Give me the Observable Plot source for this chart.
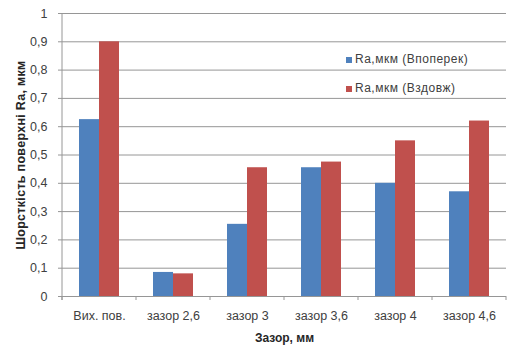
<!DOCTYPE html>
<html>
<head>
<meta charset="utf-8">
<script src="https://cdn.jsdelivr.net/npm/d3@7"></script>
<script src="https://cdn.jsdelivr.net/npm/@observablehq/plot@0.6"></script>
<style>
  body { margin: 0; background: #fff; }
  #chart { position: relative; width: 511px; height: 349px; font-family: "Liberation Sans", Arial, sans-serif; }
  #chart svg g[aria-label="y-axis label"] text { font-weight: bold; fill: #262626; font-size: 12.5px; letter-spacing: 0.3px; }
  #chart svg g[aria-label="fx-axis label"] text { font-weight: bold; fill: #262626; font-size: 12px; }
  .legend { position: absolute; left: 346px; top: 45px; font-size: 12px; letter-spacing: 0.5px; color: #404040; line-height: 29px; }
  .legend div { display: flex; align-items: center; white-space: nowrap; }
  .legend span.sw { display: inline-block; width: 6px; height: 6px; margin-right: 3px; }
</style>
</head>
<body>
<div id="chart"></div>
<script>
// Surface roughness Ra (µm) for each gap setting, measured across and along
const categories = ["Вих. пов.", "зазор 2,6", "зазор 3", "зазор 3,6", "зазор 4", "зазор 4,6"];
const series = ["Ra,мкм (Впоперек)", "Ra,мкм (Вздовж)"];
const across = [0.625, 0.085, 0.255, 0.455, 0.40, 0.37];
const along = [0.90, 0.08, 0.455, 0.475, 0.55, 0.62];
const colors = ["#4F81BD", "#C0504D"];
const yTicks = [0, 0.1, 0.2, 0.3, 0.4, 0.5, 0.6, 0.7, 0.8, 0.9, 1];
const yLabel = "Шорсткість поверхні Ra, мкм";
const xLabel = "Зазор, мм";

const rows = categories.flatMap((cat, i) => [
  {cat, series: series[0], value: across[i]},
  {cat, series: series[1], value: along[i]}
]);

const gridColor = "#969696";

const plot = Plot.plot({
  width: 511,
  height: 349,
  marginLeft: 60,
  marginRight: 3,
  marginTop: 13,
  marginBottom: 53,
  style: {fontFamily: "'Liberation Sans', Arial, sans-serif", fontSize: "12.5px", color: "#404040", background: "#fff"},
  fx: {domain: categories, padding: 0},
  x: {domain: series, paddingInner: 0, paddingOuter: 0.78, axis: null},
  y: {domain: [0, 1]},
  color: {domain: series, range: colors},
  marks: [
    Plot.gridY(yTicks, {stroke: gridColor, strokeOpacity: 1}),
    Plot.barY(rows, {fx: "cat", x: "series", y: "value", fill: "series"}),
    Plot.ruleY([0], {stroke: gridColor}),
    Plot.axisY(yTicks, {
      tickSize: 4, tickPadding: 11, stroke: gridColor,
      tickFormat: d => String(d).replace(".", ","),
      label: yLabel, labelAnchor: "center", labelArrow: "none", labelOffset: 46
    }),
    Plot.axisFx({
      anchor: "bottom", tickSize: 0, tickPadding: 15,
      label: xLabel, labelAnchor: "center", labelArrow: "none", labelOffset: 45
    })
  ]
});

// Excel-style axis line and category boundary ticks, placed with the fx scale
const fx = plot.scale("fx");
const svg = d3.select(plot);
const y0 = plot.scale("y").apply(0);
const y1 = plot.scale("y").apply(1);
const edges = categories.map(c => fx.apply(c)).concat([fx.apply(categories[categories.length - 1]) + fx.bandwidth]);
const g = svg.append("g").attr("stroke", gridColor).attr("fill", "none");
g.append("line").attr("x1", edges[0]).attr("x2", edges[0]).attr("y1", y1).attr("y2", y0 + 4);
g.selectAll("line.tick").data(edges).join("line").attr("class", "tick")
  .attr("x1", d => d).attr("x2", d => d).attr("y1", y0).attr("y2", y0 + 4);

const chart = document.getElementById("chart");
chart.appendChild(plot);

const legend = d3.select(chart).append("div").attr("class", "legend");
const item = legend.selectAll("div").data(series).join("div");
item.append("span").attr("class", "sw").style("background", (d, i) => colors[i]);
item.append("span").text(d => d);
</script>
</body>
</html>
